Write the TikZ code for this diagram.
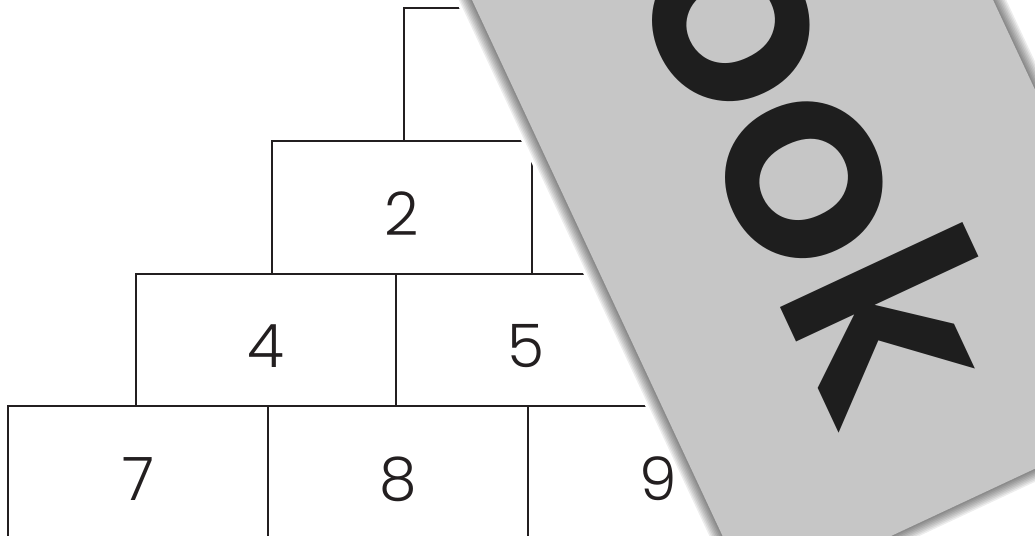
\documentclass[tikz,border=0pt]{standalone}
\usepackage{fontspec}
\usetikzlibrary{positioning}
\newfontfamily\digitfont{Poppins Light}
\newfontfamily\wordfont{Poppins SemiBold}
\definecolor{inkgray}{RGB}{35,31,32}
\definecolor{bannergray}{RGB}{198,198,198}
\definecolor{lettergray}{RGB}{30,30,30}

\begin{document}
\begin{tikzpicture}[
    x=1pt, y=-1pt,
    brick/.style={rectangle, draw=inkgray, line width=2pt,
                  minimum width=260pt, minimum height=132.5pt,
                  inner sep=0pt, outer sep=0pt, text=inkgray,
                  text height=56pt, text depth=0pt,
                  font=\digitfont\fontsize{60}{60}\selectfont},
    halo/.style={white, line width=30pt, line join=round},
    shade/.style={black, opacity=0.07, line join=round},
    word/.style={anchor=base west, rotate=-65, inner sep=0pt,
                 text=lettergray,
                 font=\wordfont\fontsize{272}{272}\selectfont}
]

\useasboundingbox (0,0) rectangle (1035,535);
\clip (0,0) rectangle (1035,535);

% number pyramid
\node[brick] (b41) at (138,472.25) {7};
\node[brick, right=0pt of b41] (b42) {8};
\node[brick, right=0pt of b42] (b43) {9};
\node[brick] (b31) at (266,339.75) {4};
\node[brick, right=0pt of b31] (b32) {5};
\node[brick] (b21) at (402,207.25) {2};
\node[brick] (b11) at (534,74.75) {};

% grey card lying over it
\coordinate (tl) at (425.3,-100);
\coordinate (tr) at (946.3,-100);
\coordinate (br) at (1180.3,400.7);
\coordinate (bl) at (752.8,600.6);

\draw[halo] (tl) -- (tr) -- (br) -- (bl) -- cycle;
\foreach \w in {24,21,...,3}
  \draw[shade, line width=\w pt] (tl) -- (tr) -- (br) -- (bl) -- cycle;
\fill[bannergray] (tl) -- (tr) -- (br) -- (bl) -- cycle;

\node[word] (ook) at (626,-24) {ook};

\end{tikzpicture}
\end{document}
